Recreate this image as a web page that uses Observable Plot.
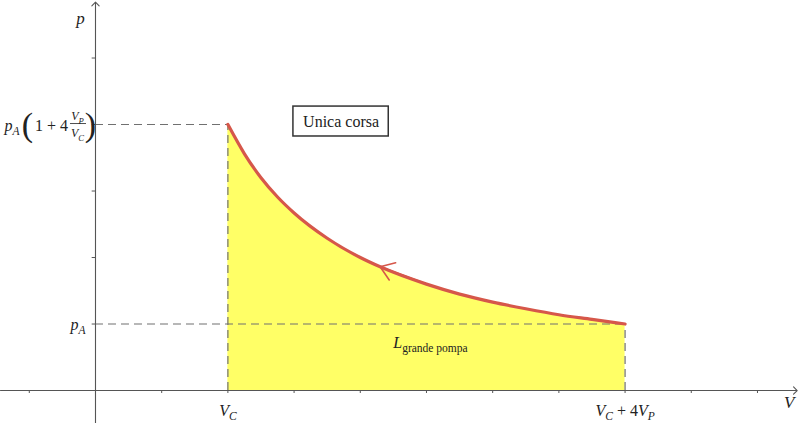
<!DOCTYPE html>
<html>
<head>
<meta charset="utf-8">
<script src="https://cdn.jsdelivr.net/npm/d3@7"></script>
<script src="https://cdn.jsdelivr.net/npm/@observablehq/plot@0.6"></script>
<style>
  body { margin: 0; background: #fff; }
  svg text { white-space: pre; }
</style>
</head>
<body>
<div id="chart"></div>
<script>
// p-V diagram: isotherm compression V_C + 4V_P -> V_C (units: one tick)
const volume   = [2, 2.25, 2.5, 2.75, 3, 3.5, 4, 4.3, 5, 5.5, 6, 6.5, 7, 7.5, 8];
const pressure = [4, 3.56, 3.2, 2.91, 2.67, 2.29, 2, 1.86, 1.6, 1.45, 1.33, 1.23, 1.14, 1.07, 1];
const xTicks = [-1, 1, 2, 3, 4, 5, 6, 7, 8, 9, 10];
const yTicks = [1, 2, 3, 4, 5];
const vC = 2, vEnd = 8;      // V_C and V_C + 4V_P
const pA = 1, pTop = 4;      // p_A and p_A(1 + 4V_P/V_C)
const xLabels = ["$V_C", "$V_C + 4V_P"];
const boxLabel = "Unica corsa";
const areaLabel = "$L_{grande pompa}";

const width = 800, height = 423;
const xMin = -1.435, xMax = 10.65, yMin = -0.496, yMax = 5.865;

const curve = volume.map((v, i) => ({V: v, p: pressure[i]}));
const red = "#d6574a", dash = "#707070", axis = "#555";

const font = {fontFamily: "Liberation Serif", fill: "#222"};

const plot = Plot.plot({
  width, height,
  margin: 0,
  x: {domain: [xMin, xMax], axis: null},
  y: {domain: [yMin, yMax], axis: null},
  style: {background: "white"},
  marks: [
    // filled work area
    Plot.areaY(curve, {x: "V", y: "p", fill: "#ffff66", curve: "monotone-x"}),

    // dashed guides
    Plot.ruleY([pTop], {x1: 0, x2: vC, stroke: dash, strokeWidth: 1.2, strokeDasharray: "8,5"}),
    Plot.ruleY([pA], {x1: 0, x2: vEnd, stroke: dash, strokeWidth: 1.2, strokeDasharray: "8,5"}),
    Plot.ruleX([vC], {y1: 0, y2: pTop, stroke: dash, strokeWidth: 1.2, strokeDasharray: "8,5"}),
    Plot.ruleX([vEnd], {y1: 0, y2: pA, stroke: dash, strokeWidth: 1.2, strokeDasharray: "8,5"}),

    // axes with arrow heads
    Plot.arrow([0], {x1: xMin, x2: 10.6, y1: 0, y2: 0, stroke: axis, strokeWidth: 1.1, headLength: 7, headAngle: 90}),
    Plot.arrow([0], {x1: 0, x2: 0, y1: yMin, y2: 5.84, stroke: axis, strokeWidth: 1.1, headLength: 7, headAngle: 90}),
    Plot.ruleX(xTicks, {x: d => d, y1: 0, y2: -0.045, stroke: axis, strokeWidth: 1}),
    Plot.ruleY(yTicks, {y: d => d, x1: -0.05, x2: 0, stroke: axis, strokeWidth: 1}),

    // direction arrow on the isotherm
    Plot.arrow([0], {
      x1: curve[8].V, y1: curve[8].p, x2: curve[7].V, y2: curve[7].p,
      stroke: red, strokeWidth: 1.6, headLength: 15, headAngle: 70
    }),
    Plot.line(curve, {x: "V", y: "p", stroke: red, strokeWidth: 3.2, curve: "monotone-x"}),

    // box label
    Plot.rect([0], {x1: 2.99, x2: 4.43, y1: 3.82, y2: 4.27, fill: "white", stroke: "#333", strokeWidth: 1.5}),
    Plot.text([boxLabel], {x: 3.71, y: 4.045, text: d => d, fontSize: 16, ...font}),

    // axis names
    Plot.text(["$p"], {x: 0, y: yMax, text: d => d, dx: -15, dy: 18, fontSize: 17, ...font}),
    Plot.text(["$V"], {x: 10.48, y: 0, text: d => d, dy: 12, fontSize: 17, ...font}),

    // x labels
    Plot.text([vC, vEnd], {x: d => d, y: 0, text: (d, i) => xLabels[i], dy: 20, fontSize: 16, ...font}),

    // y labels
    Plot.text(["$p_A"], {x: 0, y: pA, text: d => d, dx: -10, dy: 1, textAnchor: "end", fontSize: 16, ...font}),
    Plot.text(["$p_A"], {x: 0, y: pTop, text: d => d, dx: -91, dy: 1, textAnchor: "start", fontSize: 16, ...font}),
    Plot.text(["("], {x: 0, y: pTop, text: d => d, dx: -68, dy: 1, fontSize: 34, ...font}),
    Plot.text(["1 + 4"], {x: 0, y: pTop, text: d => d, dx: -44, dy: 1, fontSize: 16, ...font}),
    Plot.text(["$V_P"], {x: 0, y: pTop, text: d => d, dx: -18, dy: -8, fontSize: 12, ...font}),
    Plot.ruleY([4.015], {x1: -0.378, x2: -0.136, stroke: "#222", strokeWidth: 0.8}),
    Plot.text(["$V_C"], {x: 0, y: pTop, text: d => d, dx: -18, dy: 9, fontSize: 12, ...font}),
    Plot.text([")"], {x: 0, y: pTop, text: d => d, dx: -5, dy: 1, fontSize: 34, ...font}),

    // area label
    Plot.text([areaLabel], {x: 5.06, y: 0.71, text: d => d, fontSize: 16, ...font})
  ]
});

// turn "$V_C" style strings into italic letters with subscripts
d3.select(plot).selectAll("text").each(function () {
  const t = d3.select(this);
  t.attr("font-family", "Liberation Serif");
  const s = t.text();
  if (!s.startsWith("$")) return;
  t.text(null);
  const re = /_\{([^}]*)\}|_(.)|([A-Za-z]+)|([^A-Za-z_]+)/g;
  let m, low = false;
  const body = s.slice(1);
  while ((m = re.exec(body))) {
    const sub = m[1] ?? m[2];
    if (sub != null) {
      t.append("tspan")
        .attr("dy", low ? null : 4)
        .attr("font-size", "0.72em")
        .attr("font-style", m[1] != null ? "normal" : "italic")
        .text(sub);
      low = true;
    } else {
      t.append("tspan")
        .attr("dy", low ? -4 : null)
        .attr("font-style", m[3] != null ? "italic" : "normal")
        .text(m[3] ?? m[4]);
      low = false;
    }
  }
});

document.getElementById("chart").append(plot);
</script>
</body>
</html>
